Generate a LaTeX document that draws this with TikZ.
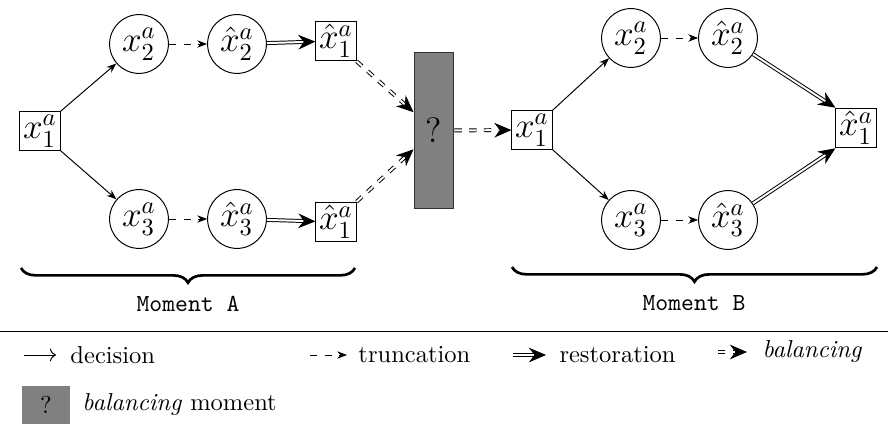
\documentclass[tikz,border=0pt]{standalone}
\usetikzlibrary{arrows.meta,decorations.pathreplacing}
\begin{document}
\begin{tikzpicture}[x=0.408pt,y=-0.408pt,
  box/.style={draw, inner sep=1.3pt, font=\Large},
  circ/.style={draw, circle, minimum size=24pt, inner sep=0.5pt, font=\Large},
  dec/.style={-{Stealth[length=4pt,width=3pt]}},
  trunc/.style={dashed,-{Stealth[length=4pt,width=3pt]}},
  resto/.style={double, double distance=0.8pt, -{Stealth[length=7pt,width=6pt]}},
  bal/.style={double, double distance=0.8pt, dashed, -{Stealth[length=7pt,width=6pt]}},
  bracestyle/.style={decorate, decoration={brace, mirror, amplitude=6pt}, line width=1.1pt},
  lbl/.style={anchor=west, inner sep=0pt},
]
\useasboundingbox (0,0) rectangle (888,434);

% Moment A
\node[box] (A1) at (40,131) {$x_1^a$};
\node[circ] (A2) at (139,44) {$x_2^a$};
\node[circ] (A2h) at (237,44) {$\hat{x}_2^a$};
\node[box] (A1t) at (336,41) {$\hat{x}_1^a$};
\node[circ] (A3) at (139,219) {$x_3^a$};
\node[circ] (A3h) at (237,219) {$\hat{x}_3^a$};
\node[box] (A1b) at (336,222) {$\hat{x}_1^a$};

% balancing moment
\node[draw=black!80, fill=gray, minimum width=16.3pt, minimum height=64pt, inner sep=0pt, font=\Large] (Q) at (434,130.5) {?};

% Moment B
\node[box] (B1) at (532,130) {$x_1^a$};
\node[circ] (B2) at (631,38) {$x_2^a$};
\node[circ] (B2h) at (728,38) {$\hat{x}_2^a$};
\node[circ] (B3) at (631,220) {$x_3^a$};
\node[circ] (B3h) at (728,220) {$\hat{x}_3^a$};
\node[box] (B1h) at (856,128) {$\hat{x}_1^a$};

\draw[dec] (A1.north east) -- (A2);
\draw[dec] (A1.south east) -- (A3);
\draw[trunc] (A2) -- (A2h);
\draw[trunc] (A3) -- (A3h);
\draw[resto] (A2h) -- (A1t);
\draw[resto] (A3h) -- (A1b);
\draw[bal] (A1t.south east) -- (Q);
\draw[bal] (A1b.north east) -- (Q);
\draw[bal] (Q) -- (B1);
\draw[dec] (B1.north east) -- (B2);
\draw[dec] (B1.south east) -- (B3);
\draw[trunc] (B2) -- (B2h);
\draw[trunc] (B3) -- (B3h);
\draw[resto] (B2h) -- (B1h.north west);
\draw[resto] (B3h) -- (B1h.south west);

% braces
\coordinate (bAl) at (21,268);
\coordinate (bAr) at (355,268);
\coordinate (bBl) at (512,267);
\coordinate (bBr) at (877,267);
\draw[bracestyle] (bAl) -- (bAr);
\draw[bracestyle] (bBl) -- (bBr);
\node[font=\ttfamily] (mA) at (188,304) {Moment A};
\node[font=\ttfamily] (mB) at (694,303) {Moment B};

% separator
\coordinate (sepL) at (0,331);
\coordinate (sepR) at (888,331);
\draw (sepL) -- (sepR);

% legend
\coordinate (l1a) at (24,355);
\coordinate (l1b) at (56,355);
\draw[-{Computer Modern Rightarrow}] (l1a) -- (l1b);
\node[lbl] (t1) at (70,355) {decision};

\coordinate (l2a) at (310,355);
\coordinate (l2b) at (347,355);
\draw[trunc] (l2a) -- (l2b);
\node[lbl] (t2) at (358,355) {truncation};

\coordinate (l3a) at (513,355);
\coordinate (l3b) at (546,355);
\draw[resto] (l3a) -- (l3b);
\node[lbl] (t3) at (559,355) {restoration};

\coordinate (l4a) at (718,352);
\coordinate (l4b) at (747,352);
\draw[bal] (l4a) -- (l4b);
\node[lbl] (t4) at (762,352) {\textit{balancing}};

\node[fill=gray, minimum width=19.6pt, minimum height=15.5pt, inner sep=0pt] (Qleg) at (46,405) {?};
\node[lbl] (t5) at (82,405) {\textit{balancing} moment};
\end{tikzpicture}
\end{document}
